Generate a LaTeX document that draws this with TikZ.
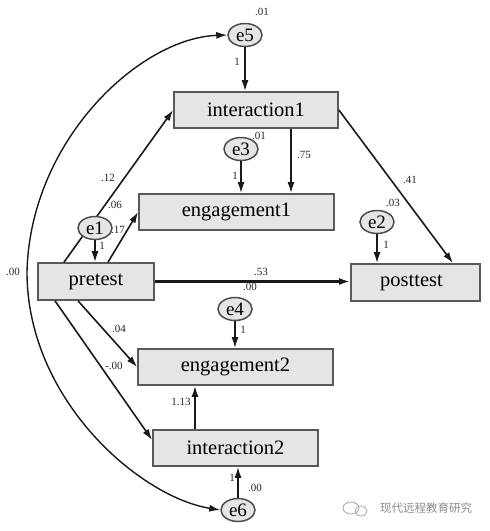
\documentclass[tikz,border=0pt]{standalone}
\usepackage{fontspec}
\setmainfont{Liberation Serif}
\newfontfamily\cjk{Noto Sans CJK SC}
\usetikzlibrary{arrows.meta,shapes.geometric}
\begin{document}
\begin{tikzpicture}[x=1pt,y=-1pt,
  box/.style={draw=black!65, line width=1.7pt, fill=black!10, inner sep=0pt, minimum height=36pt, font=\fontsize{20.5}{22}\selectfont},
  err/.style={ellipse, draw=black!70, line width=1.5pt, fill=black!10, inner sep=0pt, minimum width=34pt, minimum height=23pt, font=\fontsize{19}{20}\selectfont},
  arr/.style={draw=black!90, line width=1.6pt, -{Latex[length=11pt,width=7pt]}},
  dbl/.style={draw=black!90, line width=1.4pt, {Latex[length=11pt,width=7pt]}-{Latex[length=11pt,width=7pt]}},
  lab/.style={font=\fontsize{11}{12}\selectfont, inner sep=0pt, text=black!85}]
\useasboundingbox (0,0) rectangle (490,531);
% boxes
\node[box, minimum width=164pt] (int1) at (256,110) {interaction1};
\node[box, minimum width=195pt] (eng1) at (236.5,212) {engagement1};
\node[box, minimum width=116pt, minimum height=37pt] (pre) at (96,281.5) {pretest};
\node[box, minimum width=129pt, minimum height=37pt] (post) at (415.5,282.5) {\hspace*{-8pt}posttest};
\node[box, minimum width=195pt] (eng2) at (235.5,367) {engagement2};
\node[box, minimum width=165pt] (int2) at (235.5,448) {interaction2};
% paths under error nodes
\draw[arr] ([xshift=-32pt]pre.north) -- (int1.west);
\draw[arr] ([xshift=12pt]pre.north) -- (eng1.west);
% error terms
\node[err] (e5) at (245,35) {e5};
\node[err] (e3) at (241,149) {e3};
\node[err] (e1) at (95,228) {e1};
\node[err] (e2) at (377,222) {e2};
\node[err] (e4) at (235,309) {e4};
\node[err] (e6) at (238,510) {e6};
% arrows
\draw[arr] (e5) -- (e5 |- int1.north);
\draw[arr] (e3) -- (e3 |- eng1.north);
\draw[arr] ([xshift=35pt]int1.south) -- ([xshift=35pt]int1.south |- eng1.north);
\draw[arr] (int1.east) -- ([xshift=37.5pt]post.north);
\draw[arr] (e2) -- (e2 |- post.north);
\draw[arr] (e1) -- (e1 |- pre.north);
\draw[arr, line width=2.2pt] (pre.east) -- (pre.east -| post.west);
\draw[arr] (e4) -- (e4 |- eng2.north);
\draw[arr] ([xshift=-18pt]pre.south) -- (eng2.west);
\draw[arr] ([xshift=-41pt]pre.south) -- ([yshift=8pt]int2.west);
\draw[arr] ([xshift=-40.5pt]int2.north) -- ([xshift=-40.5pt]int2.north |- eng2.south);
\draw[arr] (e6) -- (e6 |- int2.south);
% covariance e5 <-> e6
\coordinate (left) at (27,272);
\draw[dbl] (e5.west) .. controls (140,38) and (30,140) .. (left)
  .. controls (27,400) and (140,497) .. (e6.west);
% labels
\node[lab] at (262,12) {.01};
\node[lab] at (237,62) {1};
\node[lab] at (259,136) {.01};
\node[lab] at (235,176) {1};
\node[lab] at (304,155) {.75};
\node[lab] at (410,180) {.41};
\node[lab] at (393,203) {.03};
\node[lab] at (386,245) {1};
\node[lab] at (108,178) {.12};
\node[lab] at (115,205) {.06};
\node[lab] at (118,230) {.17};
\node[lab] at (102,246) {1};
\node[lab] at (261,272) {.53};
\node[lab] at (250,287) {.00};
\node[lab] at (243,330) {1};
\node[lab] at (119,329) {.04};
\node[lab] at (114,366) {-.00};
\node[lab] at (181,402) {1.13};
\node[lab] at (232,478) {1};
\node[lab] at (255,488) {.00};
\node[lab] at (13,272) {.00};
% watermark
\draw[black!35, line width=0.8pt] (351,508) ellipse (8pt and 6pt);
\draw[black!35, line width=0.8pt] (361,511) ellipse (6pt and 5pt);
\node[font=\cjk\fontsize{11.5}{12}\selectfont, text=black!45, inner sep=0pt] (wm) at (426,508) {现代远程教育研究};
\end{tikzpicture}
\end{document}
